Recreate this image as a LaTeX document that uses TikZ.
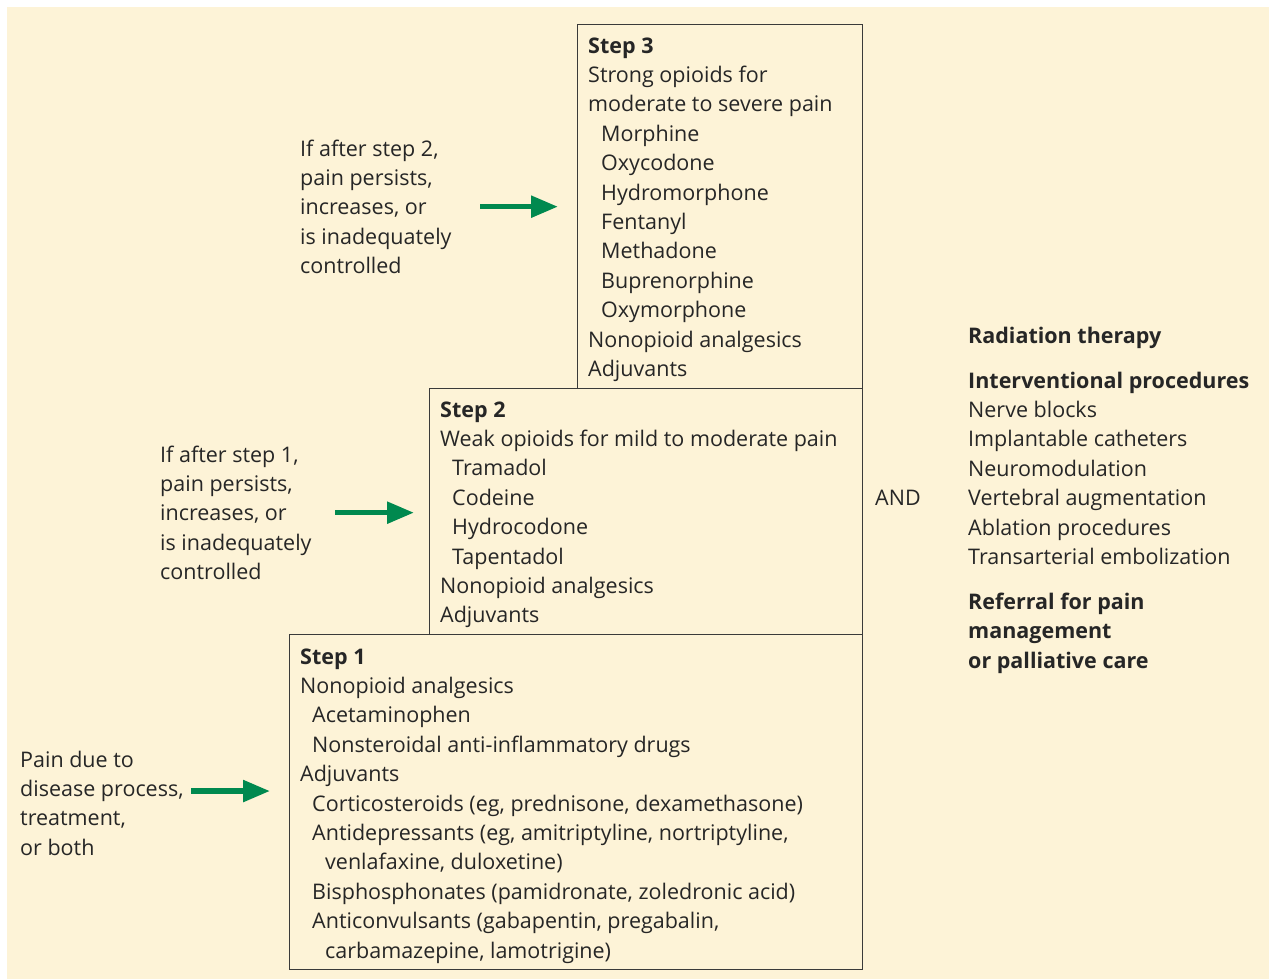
\documentclass[tikz,border=0pt]{standalone}
\usepackage{fontspec}
\setmainfont{Open Sans}
\usetikzlibrary{arrows.meta}
\definecolor{cream}{HTML}{FDF3D7}
\definecolor{arrowgreen}{HTML}{00894F}
\definecolor{boxline}{HTML}{3A3A3A}
\begin{document}
\begin{tikzpicture}[x=1pt, y=-1pt,
  stepbox/.style={draw=boxline, line width=1.3pt, inner sep=0pt, anchor=north west},
  txt/.style={align=left, inner sep=0pt, anchor=base west, text=black!85,
    font=\fontsize{21.5}{29.4}\selectfont},
  arrow/.style={draw=arrowgreen, line width=5.5pt, -{Triangle[length=27pt, width=21pt]}}]
\useasboundingbox (0,0) rectangle (1269,979);

% Background
\fill[cream] (7,7) rectangle (1269,979);

% Boxes
\node[stepbox, minimum width=285pt, minimum height=364pt] (step3) at (577,24) {};
\node[stepbox, minimum width=433pt, minimum height=246pt] (step2) at (429,388) {};
\node[stepbox, minimum width=573pt, minimum height=335pt] (step1) at (289,634) {};

% Box contents (anchored at the last baseline)
\node[txt] (s3text) at (588,376.4) {\textbf{Step 3}\\
  Strong opioids for\\
  moderate to severe pain\\
  \hspace*{13pt}Morphine\\
  \hspace*{13pt}Oxycodone\\
  \hspace*{13pt}Hydromorphone\\
  \hspace*{13pt}Fentanyl\\
  \hspace*{13pt}Methadone\\
  \hspace*{13pt}Buprenorphine\\
  \hspace*{13pt}Oxymorphone\\
  Nonopioid analgesics\\
  Adjuvants};
\node[txt] (s2text) at (440,622.8) {\textbf{Step 2}\\
  Weak opioids for mild to moderate pain\\
  \hspace*{12pt}Tramadol\\
  \hspace*{12pt}Codeine\\
  \hspace*{12pt}Hydrocodone\\
  \hspace*{12pt}Tapentadol\\
  Nonopioid analgesics\\
  Adjuvants};
\node[txt] (s1text) at (300,958) {\textbf{Step 1}\\
  Nonopioid analgesics\\
  \hspace*{12pt}Acetaminophen\\
  \hspace*{12pt}Nonsteroidal anti-inflammatory drugs\\
  Adjuvants\\
  \hspace*{12pt}Corticosteroids (eg, prednisone, dexamethasone)\\
  \hspace*{12pt}Antidepressants (eg, amitriptyline, nortriptyline,\\
  \hspace*{25pt}venlafaxine, duloxetine)\\
  \hspace*{12pt}Bisphosphonates (pamidronate, zoledronic acid)\\
  \hspace*{12pt}Anticonvulsants (gabapentin, pregabalin,\\
  \hspace*{25pt}carbamazepine, lamotrigine)};

% Conditions
\node[txt] (if2) at (300,273.6) {If after step 2,\\pain persists,\\increases, or\\is inadequately\\controlled};
\node[txt] (if1) at (160,579.6) {If after step 1,\\pain persists,\\increases, or\\is inadequately\\controlled};
\node[txt] (pain) at (20,855.2) {Pain due to\\disease process,\\treatment,\\or both};

% Arrows
\draw[arrow] ([xshift=-97pt]if2.east -| step3.west) -- ([xshift=-19pt]if2.east -| step3.west);
\draw[arrow] ([xshift=-94pt]if1.east -| step2.west) -- ([xshift=-15pt]if1.east -| step2.west);
\draw[arrow] ([xshift=-98pt, yshift=12pt]pain.east -| step1.west) -- ([xshift=-19pt, yshift=12pt]pain.east -| step1.west);

% Other options
\node[txt] (and) at (875,505) {AND};
\node[txt] (other) at (968,668.2) {\textbf{Radiation therapy}\\[15.6pt]
  \textbf{Interventional procedures}\\
  Nerve blocks\\
  Implantable catheters\\
  Neuromodulation\\
  Vertebral augmentation\\
  Ablation procedures\\
  Transarterial embolization\\[15.6pt]
  \textbf{Referral for pain}\\
  \textbf{management}\\
  \textbf{or palliative care}};
\end{tikzpicture}
\end{document}
